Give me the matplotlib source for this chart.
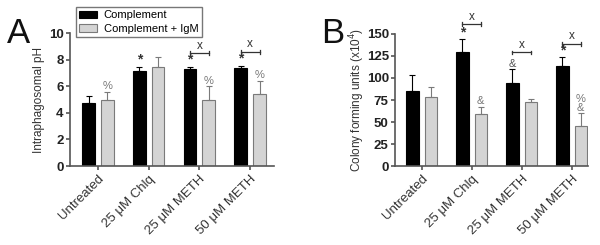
import numpy as np
import matplotlib.pyplot as plt

plt.rcParams['font.family'] = ['Liberation Sans', 'DejaVu Sans']

groups = ["Untreated", "25 \u03bcM Chlq", "25 \u03bcM METH", "50 \u03bcM METH"]

ph_comp = [4.7, 7.12, 7.27, 7.36]
ph_comp_err = [0.55, 0.33, 0.18, 0.17]
ph_igm = [4.95, 7.45, 4.95, 5.43]
ph_igm_err = [0.63, 0.75, 1.05, 0.98]
ph_comp_marks = ["", "*", "*", "*"]
ph_igm_marks = ["%", "", "%", "%"]
ph_brackets = {2: 8.5, 3: 8.6}

cfu_comp = [85.5, 129, 94.5, 114]
cfu_comp_err = [17.5, 15, 15.5, 9.5]
cfu_igm = [78.5, 59.5, 72.5, 46]
cfu_igm_err = [11, 8, 3.5, 14]
cfu_comp_marks = ["", "*", "&", "*"]
cfu_igm_marks = ["", "&", "", "%\n&"]
cfu_brackets = {1: 161, 2: 129, 3: 139}

fig = plt.figure(figsize=(6, 2.45), dpi=100)
axA = fig.add_axes([70/600, 79/245, 204/600, 133/245])
axB = fig.add_axes([395/600, 79/245, 193/600, 132/245])

x = np.arange(len(groups))
off = 0.185
w = 0.25


def draw(ax, comp, comp_err, igm, igm_err, cm, im, brackets, ymax, step, pad):
    b1 = ax.bar(x - off, comp, w, color="black", edgecolor="black", lw=0.8,
                yerr=[np.zeros(4), comp_err], capsize=2.5,
                error_kw=dict(ecolor="black", elinewidth=0.8, capthick=0.8),
                label="Complement", zorder=2)
    b2 = ax.bar(x + off, igm, w, color="#d4d4d4", edgecolor="#7a7a7a", lw=0.8,
                yerr=[np.zeros(4), igm_err], capsize=2.5,
                error_kw=dict(ecolor="#7a7a7a", elinewidth=0.8, capthick=0.8),
                label="Complement + IgM", zorder=2)
    for i in range(4):
        if cm[i] == "*":
            ax.text(x[i] - off, comp[i] + comp_err[i] + pad * 0.1, cm[i],
                    ha="center", va="bottom", fontsize=10, color="#333333",
                    fontweight="bold")
        elif cm[i]:
            ax.text(x[i] - off, comp[i] + comp_err[i] + pad * 0.2, cm[i],
                    ha="center", va="bottom", fontsize=8, color="#555555")
        if im[i]:
            ax.text(x[i] + off, igm[i] + igm_err[i] + pad * 0.2, im[i],
                    ha="center", va="bottom", fontsize=8, color="#777777",
                    linespacing=0.8)
    for i, yb in brackets.items():
        ax.plot([x[i] - off, x[i] + off], [yb, yb], color="#333333", lw=0.9,
                clip_on=False)
        for xe in (x[i] - off, x[i] + off):
            ax.plot([xe, xe], [yb - pad * 0.6, yb + pad * 0.6], color="#333333",
                    lw=0.9, clip_on=False)
        ax.text(x[i], yb + pad * 0.4, "x", ha="center", va="bottom",
                fontsize=8.5, color="#333333")
    ax.set_ylim(0, ymax)
    ax.set_yticks(np.arange(0, ymax + step / 2, step))
    ax.set_xticks(x)
    ax.set_xticklabels(groups, rotation=45, ha="right", rotation_mode="anchor",
                       fontsize=9.5, color="#333333")
    for lab in ax.get_yticklabels():
        lab.set_fontweight("bold")
        lab.set_fontsize(9.5)
        lab.set_color("#222222")
    for s in ("top", "right"):
        ax.spines[s].set_visible(False)
    for s in ("left", "bottom"):
        ax.spines[s].set_color("#555555")
        ax.spines[s].set_linewidth(1.2)
    ax.tick_params(axis="both", color="#555555", width=1.2, length=3)
    ax.tick_params(axis="x", pad=2)
    ax.tick_params(axis="y", pad=1.5)
    return b1, b2


b1, b2 = draw(axA, ph_comp, ph_comp_err, ph_igm, ph_igm_err, ph_comp_marks,
              ph_igm_marks, ph_brackets, 10, 2, 0.25)
axA.set_xlim(-0.55, 3.47)
axA.set_ylabel("Intraphagosomal pH", fontsize=8.5, color="#333333")
axA.yaxis.set_label_coords(-0.123, 0.5)

draw(axB, cfu_comp, cfu_comp_err, cfu_igm, cfu_igm_err, cfu_comp_marks,
     cfu_igm_marks, cfu_brackets, 150, 25, 3.5)
axB.set_xlim(-0.53, 3.33)
axB.set_ylabel("Colony forming units (x10$^4$)", fontsize=8.5, color="#333333")
axB.yaxis.set_label_coords(-0.143, 0.5)

fig.legend([b1, b2], ["Complement", "Complement + IgM"], loc="upper left",
           bbox_to_anchor=(76/600, 1 - 7/245), fontsize=8, frameon=True,
           fancybox=False, edgecolor="#555555", handlelength=1.6,
           handleheight=0.7, borderpad=0.3, labelspacing=0.3,
           handletextpad=0.6, borderaxespad=0)

fig.text(7/600, 1 - 43/245, "A", fontsize=25, color="#111111")
fig.text(321/600, 1 - 43/245, "B", fontsize=25, color="#111111")

fig.savefig("out.png", dpi=100)
